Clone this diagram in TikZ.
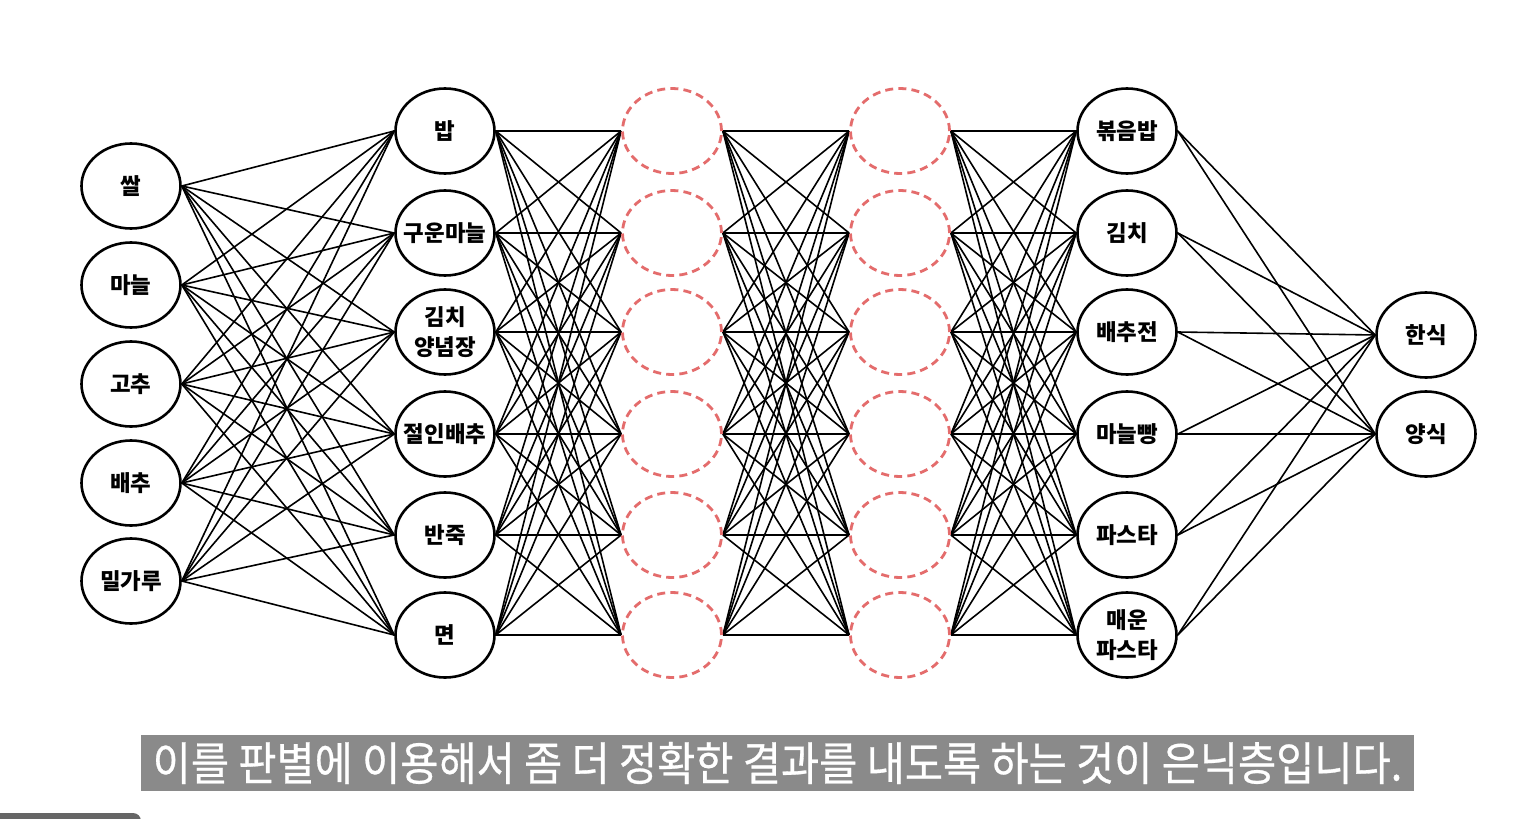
\documentclass[tikz,border=0pt]{standalone}
\usepackage{fontspec}
\setmainfont{Noto Sans CJK KR}
\newfontfamily\capfont[FakeStretch=0.9,FakeBold=0.6]{Noto Sans CJK KR}
\usetikzlibrary{backgrounds,shapes.geometric}
\definecolor{hidred}{RGB}{228,108,108}
\definecolor{capgray}{RGB}{138,138,138}
\definecolor{bargray}{RGB}{102,102,102}
\begin{document}
\begin{tikzpicture}[x=0.5pt,y=-0.5pt,
  neuron/.style={ellipse,draw=black,line width=1.3pt,fill=white,minimum width=49.5pt,minimum height=42.5pt,inner sep=0pt,
    label={[font=\bfseries\fontsize{11.2}{15}\selectfont,align=center,inner sep=0pt]center:#1}},
  hidden/.style={ellipse,draw=hidred,line width=1.4pt,dash pattern=on 4pt off 2.6pt,minimum width=49.5pt,minimum height=42.5pt,inner sep=0pt},
  link/.style={line width=0.8pt,black}]
\useasboundingbox (0,0) rectangle (1528,819);
% input layer
\node[neuron={쌀}] (i1) at (131,186) {};
\node[neuron={마늘}] (i2) at (131,285) {};
\node[neuron={고추}] (i3) at (131,384) {};
\node[neuron={배추}] (i4) at (131,483) {};
\node[neuron={밀가루}] (i5) at (131,581) {};
% layer 2
\node[neuron={밥}] (a1) at (445,131) {};
\node[neuron={구운마늘}] (a2) at (445,233) {};
\node[neuron={김치\\양념장}] (a3) at (445,332) {};
\node[neuron={절인배추}] (a4) at (445,434) {};
\node[neuron={반죽}] (a5) at (445,535) {};
\node[neuron={면}] (a6) at (445,635) {};
% hidden layers
\foreach \k/\y in {1/131,2/233,3/332,4/434,5/535,6/635}{
  \node[hidden] (h\k) at (672,\y) {};
  \node[hidden] (g\k) at (900,\y) {};
}
% layer 5
\node[neuron={볶음밥}] (b1) at (1127,131) {};
\node[neuron={김치}] (b2) at (1127,233) {};
\node[neuron={배추전}] (b3) at (1127,332) {};
\node[neuron={마늘빵}] (b4) at (1127,434) {};
\node[neuron={파스타}] (b5) at (1127,535) {};
\node[neuron={매운\\파스타}] (b6) at (1127,635) {};
% output
\node[neuron={한식}] (o1) at (1426,335) {};
\node[neuron={양식}] (o2) at (1426,434) {};
% connectors
\begin{scope}[on background layer]
\fill[white] (0,0) rectangle (1528,819);
\foreach \s in {1,...,5}{\foreach \t in {1,...,6}{\draw[link] (i\s.east) -- (a\t.west);}}
\foreach \s in {1,...,6}{\foreach \t in {1,...,6}{
  \draw[link] (a\s.east) -- (h\t.west);
  \draw[link] (h\s.east) -- (g\t.west);
  \draw[link] (g\s.east) -- (b\t.west);}}
\foreach \s in {1,...,6}{\foreach \t in {1,2}{\draw[link] (b\s.east) -- (o\t.west);}}
\end{scope}
% caption
\node[fill=capgray,text=white,minimum width=636.5pt,minimum height=28pt,inner sep=0pt,font=\capfont\fontsize{23.05}{25}\selectfont] (cap) at (777.5,763) {이를 판별에 이용해서 좀 더 정확한 결과를 내도록 하는 것이 은닉층입니다.};
\fill[bargray,rounded corners=4pt] (-10,813) rectangle (141,840);
\end{tikzpicture}
\end{document}
